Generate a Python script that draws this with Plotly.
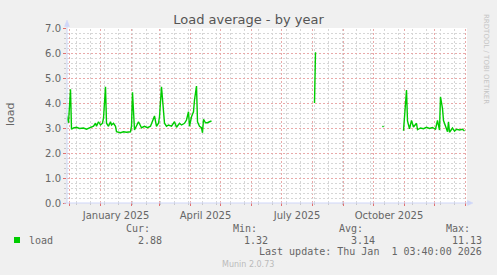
import plotly.graph_objects as go
import pandas as pd

# ---------------- data ----------------
seg1_dates = [
    "2024-11-28", "2024-11-30", "2024-12-02", "2024-12-03", "2024-12-05", "2024-12-08",
    "2024-12-11", "2024-12-15", "2024-12-18", "2024-12-22", "2024-12-25", "2024-12-27",
    "2024-12-28", "2024-12-30", "2025-01-01", "2025-01-03", "2025-01-04", "2025-01-06",
    "2025-01-07", "2025-01-09", "2025-01-11", "2025-01-12", "2025-01-14", "2025-01-16",
    "2025-01-17", "2025-01-21", "2025-01-24", "2025-01-27", "2025-01-31", "2025-02-01",
    "2025-02-02", "2025-02-04", "2025-02-06", "2025-02-08", "2025-02-11", "2025-02-14",
    "2025-02-17", "2025-02-20", "2025-02-24", "2025-02-26", "2025-02-28", "2025-03-01",
    "2025-03-03", "2025-03-05", "2025-03-06", "2025-03-08", "2025-03-10", "2025-03-13",
    "2025-03-16", "2025-03-18", "2025-03-21", "2025-03-23", "2025-03-26", "2025-03-28",
    "2025-03-30", "2025-03-31", "2025-04-02", "2025-04-04", "2025-04-05", "2025-04-07",
    "2025-04-08", "2025-04-10", "2025-04-12", "2025-04-13", "2025-04-14", "2025-04-16",
    "2025-04-18", "2025-04-20", "2025-04-22",
]
seg1_load = [
    3.50, 3.21, 4.55, 2.95, 3.00, 3.03,
    2.98, 3.00, 2.95, 3.03, 3.07, 3.19,
    3.07, 3.25, 3.12, 3.19, 3.39, 4.65,
    3.19, 3.07, 3.25, 3.12, 3.19, 3.07,
    2.85, 2.81, 2.85, 2.83, 2.85, 3.07,
    4.43, 2.92, 3.07, 3.25, 3.01, 3.07,
    3.01, 3.07, 3.48, 3.07, 3.19, 3.45,
    4.65, 3.52, 3.19, 3.07, 3.12, 3.07,
    3.25, 3.03, 3.19, 3.12, 3.19, 3.32,
    3.65, 3.07, 3.45, 3.65, 4.12, 4.68,
    3.25, 3.07, 3.01, 2.81, 3.35, 3.21,
    3.21, 3.25, 3.28,
]
seg2_dates = ["2025-08-03", "2025-08-04"]
seg2_load = [4.00, 6.03]
seg3_dates = ["2025-10-10", "2025-10-11"]
seg3_load = [3.08, 3.04]
seg4_dates = [
    "2025-10-31", "2025-11-03", "2025-11-04", "2025-11-06", "2025-11-08", "2025-11-10",
    "2025-11-13", "2025-11-14", "2025-11-17", "2025-11-20", "2025-11-23", "2025-11-26",
    "2025-11-29", "2025-12-02", "2025-12-04", "2025-12-06", "2025-12-07", "2025-12-09",
    "2025-12-10", "2025-12-13", "2025-12-14", "2025-12-15", "2025-12-16", "2025-12-19",
    "2025-12-21", "2025-12-23", "2025-12-26", "2025-12-29", "2025-12-31",
]
seg4_load = [
    2.89, 4.52, 3.28, 2.97, 3.30, 3.04,
    3.19, 2.93, 3.00, 2.97, 3.03, 2.98,
    3.02, 2.95, 3.30, 2.92, 4.25, 3.78,
    3.30, 2.92, 2.85, 3.25, 2.83, 3.00,
    2.87, 2.95, 2.92, 2.95, 2.88,
]
gap_dates = ["2025-06-01", "2025-09-10", "2025-10-20"]

x_range = ["2024-11-28 12:00", "2026-01-02 12:00"]
label_dates = ["2025-01-16 12:00", "2025-04-16", "2025-07-16 12:00", "2025-10-16 12:00"]
label_text = ["January 2025", "April 2025", "July 2025", "October 2025"]

legend_headers = ["Cur:", "Min:", "Avg:", "Max:"]
legend_values = ["2.88", "1.32", "3.14", "11.13"]
series_name = "load"
last_update = "Last update: Thu Jan  1 03:40:00 2026"

# ---------------- build ----------------
xs = seg1_dates + [gap_dates[0]] + seg2_dates + [gap_dates[1]] + seg3_dates + [gap_dates[2]] + seg4_dates
ys = seg1_load + [None] + seg2_load + [None] + seg3_load + [None] + seg4_load

month_starts = [d.strftime("%Y-%m-%d") for d in pd.date_range("2024-12-01", "2026-01-01", freq="MS")]
biweekly = [d.strftime("%Y-%m-%d") for d in pd.date_range("2024-12-08", "2026-01-01", freq="14D")]

GREEN = "#00cc00"
FONT = "DejaVu Sans"
MONO = "DejaVu Sans Mono"
TXT = "#666666"
MGRID = "#e9a9a9"
GRID = "#d6d6d6"
AXIS = "#cfd6f8"
DASH = "2px,2px"

fig = go.Figure()
fig.add_trace(go.Scatter(x=xs, y=ys, mode="lines", line=dict(color=GREEN, width=1.4),
                         connectgaps=False, hoverinfo="skip", showlegend=False))

W, H = 497, 275
L, R, T, B = 67, 30, 28, 72
PW, PH = W - L - R, H - T - B


def px(x):
    return (x - L) / PW


def py(y):
    return (T + PH - y) / PH


fig.update_layout(
    width=W, height=H, autosize=False,
    margin=dict(l=L, r=R, t=T, b=B, pad=0),
    paper_bgcolor="#f0f0f0", plot_bgcolor="#ffffff",
    showlegend=False, hovermode=False,
    title=dict(text="Load average - by year", x=0.5, xref="container", xanchor="center",
               y=1 - 19.5 / H, yref="container", yanchor="middle",
               font=dict(family=FONT, size=13, color="#555555")),
    xaxis=dict(type="date", range=x_range,
               tickmode="array", tickvals=label_dates, ticktext=label_text,
               ticks="outside", ticklen=3, tickcolor="rgba(0,0,0,0)",
               showgrid=False, zeroline=False, showline=False,
               tickfont=dict(family=FONT, size=10, color=TXT), fixedrange=True),
    yaxis=dict(range=[0, 7], tick0=0, dtick=1, tickformat=".1f",
               ticks="outside", ticklen=3, tickcolor="#e07070",
               tickfont=dict(family=FONT, size=10, color=TXT),
               showgrid=True, gridcolor=MGRID, griddash=DASH, gridwidth=1,
               minor=dict(dtick=0.2, showgrid=True, gridcolor=GRID, griddash=DASH,
                          ticks="outside", ticklen=2, tickcolor="#c8c8c8"),
               zeroline=False, showline=False, fixedrange=True),
)

shapes = []
# vertical grid: bi-weekly (gray) then month starts (red), plus their ticks below the axis
for d in biweekly:
    shapes.append(dict(type="line", xref="x", yref="paper", x0=d, x1=d, y0=0, y1=1,
                       line=dict(color=GRID, width=1, dash=DASH), layer="below"))
    shapes.append(dict(type="line", xref="x", yref="paper", x0=d, x1=d, y0=0, y1=py(205),
                       line=dict(color="#c8c8c8", width=1), layer="below"))
for d in month_starts:
    shapes.append(dict(type="line", xref="x", yref="paper", x0=d, x1=d, y0=0, y1=1,
                       line=dict(color=MGRID, width=1, dash=DASH), layer="below"))
    shapes.append(dict(type="line", xref="x", yref="paper", x0=d, x1=d, y0=0, y1=py(206),
                       line=dict(color="#e07070", width=1), layer="below"))
# axes lines + arrows
shapes.append(dict(type="line", xref="paper", yref="paper", x0=0, x1=0, y0=0, y1=py(25),
                   line=dict(color=AXIS, width=1), layer="above"))
shapes.append(dict(type="line", xref="paper", yref="paper", x0=px(64), x1=px(469), y0=0, y1=0,
                   line=dict(color=AXIS, width=1), layer="above"))
shapes.append(dict(type="path", xref="paper", yref="paper",
                   path=f"M {px(67)},{py(20)} L {px(64.5)},{py(26.5)} L {px(69.5)},{py(26.5)} Z",
                   fillcolor=AXIS, line=dict(color=AXIS, width=0.5), layer="above"))
shapes.append(dict(type="path", xref="paper", yref="paper",
                   path=f"M {px(473)},{py(203)} L {px(467.5)},{py(200.5)} L {px(467.5)},{py(205.5)} Z",
                   fillcolor=AXIS, line=dict(color=AXIS, width=0.5), layer="above"))
# legend swatch
shapes.append(dict(type="rect", xref="paper", yref="paper", x0=px(14), x1=px(20),
                   y0=py(237), y1=py(243), fillcolor=GREEN, line=dict(width=0)))
fig.update_layout(shapes=shapes)

ann = []
ann.append(dict(text=series_name, x=px(10.5), y=py(114.5), xref="paper", yref="paper",
                textangle=-90, showarrow=False, xanchor="center", yanchor="middle",
                font=dict(family=FONT, size=11, color=TXT)))
ann.append(dict(text="RRDTOOL / TOBI OETIKER", x=px(486), y=py(59), xref="paper", yref="paper",
                textangle=90, showarrow=False, xanchor="center", yanchor="middle",
                font=dict(family=FONT, size=7, color="#c4c4c4")))
head_right = [152, 258.7, 364.7, 472]
val_right = [163.7, 270.3, 377, 483.7]
for h, xr in zip(legend_headers, head_right):
    ann.append(dict(text=h, x=px(xr), y=py(228.3), xref="paper", yref="paper", showarrow=False,
                    xanchor="right", yanchor="middle", font=dict(family=MONO, size=10, color=TXT)))
for v, xr in zip(legend_values, val_right):
    ann.append(dict(text=v, x=px(xr), y=py(240), xref="paper", yref="paper", showarrow=False,
                    xanchor="right", yanchor="middle", font=dict(family=MONO, size=10, color=TXT)))
ann.append(dict(text=series_name, x=px(26.5), y=py(240), xref="paper", yref="paper", showarrow=False,
                xanchor="left", yanchor="middle", font=dict(family=MONO, size=10, color=TXT)))
ann.append(dict(text=last_update.replace(" ", "&nbsp;"), x=px(483.7), y=py(251.7), xref="paper",
                yref="paper", showarrow=False, xanchor="right", yanchor="middle",
                font=dict(family=MONO, size=10, color=TXT)))
ann.append(dict(text="Munin 2.0.73", x=px(248), y=py(264), xref="paper", yref="paper",
                showarrow=False, xanchor="center", yanchor="middle",
                font=dict(family=FONT, size=8, color="#bbbbbb")))
fig.update_layout(annotations=ann)

fig.write_html("out.html", config={"displayModeBar": False, "staticPlot": True})
